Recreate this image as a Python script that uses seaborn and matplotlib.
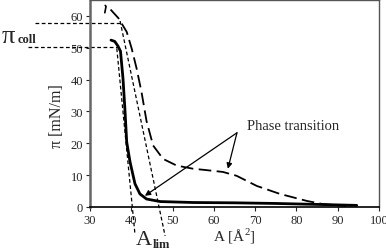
import numpy as np
import pandas as pd
import seaborn as sns
import matplotlib.pyplot as plt

sns.set_style("white")
plt.rcParams['font.family'] = ['Liberation Serif', 'DejaVu Serif']
plt.rcParams['mathtext.fontset'] = 'custom'
plt.rcParams['mathtext.rm'] = 'Liberation Serif'
plt.rcParams['mathtext.bf'] = 'Liberation Serif:bold'

# isotherma 1 (linea continua)
area_1 = [35.1, 36.0, 36.8, 37.4, 38.0, 38.5, 38.9, 39.7, 40.9, 42.1, 43.7, 47.0, 55.0, 65.0, 75.0, 85.0, 94.6]
pi_1 = [52.4, 52.0, 50.5, 48.9, 40.4, 30.0, 20.4, 14.2, 7.3, 4.1, 2.5, 1.7, 1.4, 1.3, 1.1, 0.8, 0.5]

# isotherma 2 (linea discontinua)
area_2 = [35.0, 36.9, 38.9, 40.1, 41.3, 42.5, 43.7, 45.3, 47.7, 51.0, 55.0, 58.0, 62.2, 65.5, 70.4, 76.0, 82.5, 86.4, 92.0]
pi_2 = [62.0, 59.3, 55.0, 49.8, 43.5, 36.0, 27.0, 19.3, 15.1, 13.0, 12.0, 11.6, 11.0, 9.8, 6.6, 4.1, 1.9, 0.9, 0.3]

# anotaciones
pi_coll = [57.9, 50.1]
coll_inicio = [16.7, 15.0]
coll_fin = [37.3, 36.8]
tangente_1 = ([37.3, 48.2], [58.4, -9.1])
tangente_2 = ([36.5, 40.9], [49.8, -8.5])
flecha_origen = (65.6, 23.3)
flecha_destinos = [(43.3, 3.5), (63.4, 12.0)]

df1 = pd.DataFrame({'A': area_1, 'pi': pi_1})
df2 = pd.DataFrame({'A': area_2, 'pi': pi_2})

fig = plt.figure(figsize=(3.86, 2.53), dpi=100)
ax = fig.add_axes([0.233, 0.178, 0.749, 0.818])

sns.lineplot(data=df1, x='A', y='pi', ax=ax, color='black', lw=2.0, sort=False)
sns.lineplot(data=df2, x='A', y='pi', ax=ax, color='black', lw=1.3, sort=False)
ax.lines[-1].set_dashes((7, 3))
# pequeño gancho al inicio de la curva discontinua
ax.plot([33.6, 33.9, 33.7], [61.0, 63.0, 63.3], color='black', lw=1.2)

ax.set_xlim(30, 100)
ax.set_ylim(0, 65)
ax.set_xticks(range(30, 101, 10))
ax.set_yticks(range(0, 61, 10))
ax.tick_params(axis='both', labelsize=9, length=3, width=0.8, pad=2, direction='out',
               left=True, bottom=True)

for s in ['top', 'right']:
    ax.spines[s].set_color('#555555')
    ax.spines[s].set_linewidth(1.0)
ax.spines['left'].set_color('#666666')
ax.spines['left'].set_linewidth(1.8)
ax.spines['bottom'].set_color('black')
ax.spines['bottom'].set_linewidth(1.2)

ax.set_xlabel('A [Å$^\\mathrm{2}$]', fontsize=11, labelpad=0)
ax.set_ylabel('π [mN/m]', fontsize=11.5)
ax.yaxis.set_label_coords(-0.087, 0.444)

# lineas pi_coll
for p, xs, xe in zip(pi_coll, coll_inicio, coll_fin):
    ax.plot([xs, xe], [p, p], color='black', lw=0.9, ls=(0, (3, 2)), clip_on=False)
fig.text(0.003, 0.853, 'π', fontsize=19, va='center')
fig.text(0.046, 0.84, 'coll', fontsize=9, fontweight='bold', va='center')

# tangentes
for tx, ty in [tangente_1, tangente_2]:
    ax.plot(tx, ty, color='black', lw=0.9, ls=(0, (3, 2)), clip_on=False)
fig.text(0.352, 0.012, 'A', fontsize=16, ha='left', va='bottom')
fig.text(0.395, 0.006, 'lim', fontsize=9, fontweight='bold', ha='left', va='bottom')

# flechas
for d in flecha_destinos:
    ax.annotate('', xy=d, xytext=flecha_origen,
                arrowprops=dict(arrowstyle='-|>', color='black', lw=0.9,
                                mutation_scale=8, shrinkA=0, shrinkB=0))
ax.text(79.2, 25.5, 'Phase transition', fontsize=10.5, ha='center', va='center')

fig.savefig('out.png', dpi=100)
